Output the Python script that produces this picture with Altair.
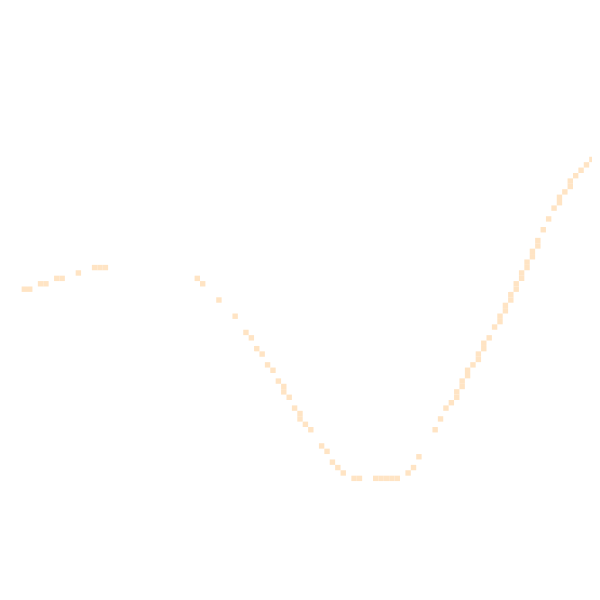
import altair as alt
import pandas as pd

# grid cells of the curve (column index, row index from top) on a 111 x 111 grid
cols = [4, 5, 7, 8, 10, 11, 14, 17, 18, 19,
        36, 37, 40, 43, 45, 46, 47, 48, 49, 50, 51, 52, 52, 53, 54, 55, 55, 56, 57,
        59, 60, 61, 62, 63, 65, 66, 69, 70, 71, 72, 73, 75, 76, 77,
        80, 81, 82, 83, 84, 84, 85, 85, 86, 86, 87, 88, 88, 89, 89, 90, 91,
        92, 92, 93, 93, 94, 94, 95, 95, 96, 96, 97, 97, 98, 98, 99, 99,
        100, 101, 102, 103, 103, 104, 105, 105, 106, 107, 108, 109, 110, 110]
rows = [53, 53, 52, 52, 51, 51, 50, 49, 49, 49,
        51, 52, 55, 58, 61, 62, 64, 65, 67, 68, 70, 71, 72, 73, 75, 76, 77, 78, 79,
        82, 83, 85, 86, 87, 88, 88, 88, 88, 88, 88, 88, 87, 86, 84,
        79, 77, 75, 74, 72, 73, 70, 71, 68, 69, 67, 65, 66, 63, 64, 62, 60,
        58, 59, 56, 57, 54, 55, 52, 53, 50, 51, 48, 49, 46, 47, 44, 45,
        42, 40, 38, 36, 37, 35, 33, 34, 32, 31, 30, 29, 27, 28]

N = 111
W, H = 584, 584
off = 8 * N / 600.0

df = pd.DataFrame({"c": cols, "r": rows})

chart = (
    alt.Chart(df)
    .transform_calculate(c2="datum.c + 1", r2="datum.r + 1")
    .mark_rect(color="#ffe4c4", strokeWidth=0)
    .encode(
        x=alt.X("c:Q", scale=alt.Scale(domain=[off, off + W * N / 600.0], nice=False, zero=False), axis=None),
        x2="c2:Q",
        y=alt.Y("r:Q", scale=alt.Scale(domain=[off, off + H * N / 600.0], nice=False, zero=False, reverse=True), axis=None),
        y2="r2:Q",
    )
    .properties(width=W, height=H, padding=0, background="white",
                autosize=alt.AutoSizeParams(type="none"))
    .configure_view(stroke="transparent", strokeWidth=0)
)

chart.save("out.html", embed_options={"renderer": "svg", "actions": False})
